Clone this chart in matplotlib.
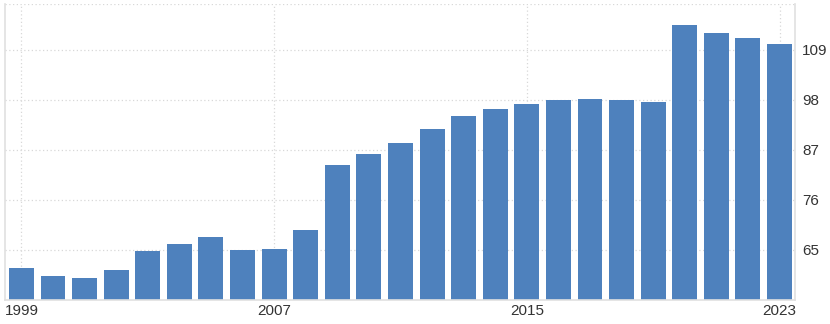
import numpy as np
import matplotlib.pyplot as plt

plt.rcParams['font.family'] = ['Liberation Sans', 'DejaVu Sans']

years = list(range(1999, 2024))
values = [61.0, 59.3, 58.8, 60.6, 64.8, 66.3, 67.9, 65.0, 65.2, 69.5,
          83.6, 86.2, 88.6, 91.5, 94.5, 96.1, 97.0, 97.9, 98.3, 98.0,
          97.6, 114.5, 112.7, 111.6, 110.3]
xtick_years = [1999, 2007, 2015, 2023]
yticks = [65, 76, 87, 98, 109]

fig = plt.figure(figsize=(8.3, 3.24), dpi=100)
ax = fig.add_axes([5 / 830, 24 / 324, 790 / 830, 296 / 324])

x = np.arange(len(years))
ax.bar(x, values, width=0.79, color="#4e81bd", zorder=2)

ymin, ymax = 54, 119.1
ax.set_xlim(-0.52, len(years) - 0.51)
ax.set_ylim(ymin, ymax)

ax.set_xticks([years.index(y) for y in xtick_years])
ax.set_xticklabels([str(y) for y in xtick_years])
ax.set_yticks(yticks)
ax.yaxis.tick_right()

# dotted line along the top edge, like the other grid lines
ax.set_yticks([ymax - 0.05], minor=True)
ax.grid(True, which="both", linestyle=(0, (1, 2)), color="#d8d8d8", lw=0.9, zorder=0)
ax.tick_params(which="both", length=0, labelsize=11, colors="#333333")
ax.tick_params(axis="y", pad=5)
ax.tick_params(axis="x", pad=3)

ax.spines["top"].set_visible(False)
for s in ["left", "right", "bottom"]:
    ax.spines[s].set_color("#e0e0e0")
    ax.spines[s].set_linewidth(1.2)

fig.savefig("out.png", dpi=100)
